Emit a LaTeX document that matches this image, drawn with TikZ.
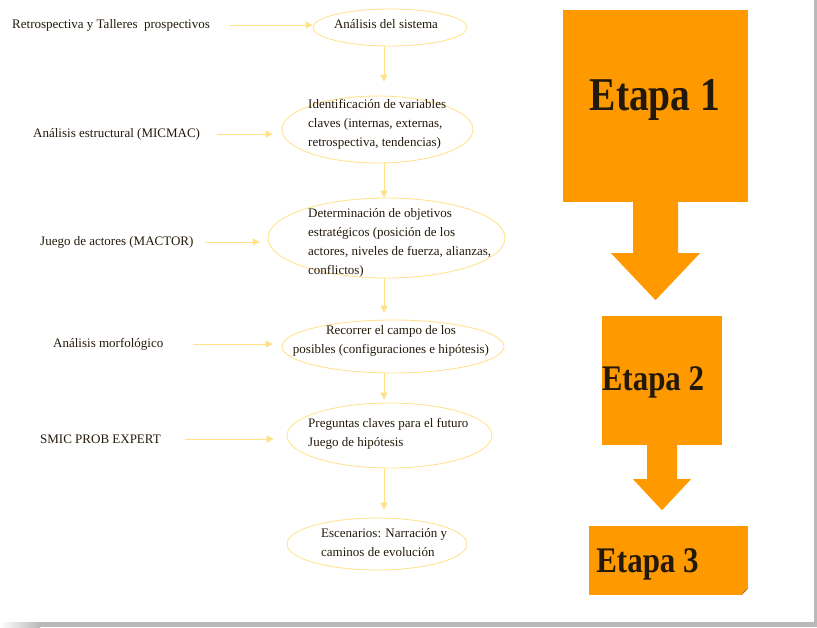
\documentclass[tikz,border=0pt]{standalone}
\usepackage{fontspec}
\usepackage{graphicx}
\setmainfont{Liberation Serif}
\usetikzlibrary{shapes.geometric,arrows.meta,calc}
\definecolor{ylw}{RGB}{255,225,135}
\definecolor{org}{RGB}{255,153,0}
\definecolor{ink}{RGB}{35,25,10}
\begin{document}
\begin{tikzpicture}[x=1pt,y=-1pt,
  ell/.style={draw=ylw, line width=0.8pt, ellipse, inner sep=0pt},
  lbl/.style={anchor=west, inner sep=0pt, text=ink, font=\fontsize{13}{19}\selectfont},
  txt/.style={inner sep=0pt, text=ink, font=\fontsize{13}{19}\selectfont},
  flow/.style={draw=ylw, line width=1pt, -{Triangle[length=7pt,width=7pt]}},
  stagebox/.style={fill=org, draw=none, inner sep=0pt, rectangle},
  etp/.style={inner sep=0pt, text=ink, font=\bfseries, anchor=base}]
\useasboundingbox (0,0) rectangle (817,627);
% page shadow
\fill[gray!55] (814,0) rectangle (817,627);
\shade[left color=white, right color=gray!55] (0,622) rectangle (40,627);
\fill[gray!55] (40,622) rectangle (817,627);

% ellipses
\node[ell, minimum width=154pt, minimum height=37pt] (e1) at (390,27.5) {};
\node[ell, minimum width=191pt, minimum height=67pt] (e2) at (377.5,129.5) {};
\node[ell, minimum width=237pt, minimum height=80pt] (e3) at (386.5,238) {};
\node[ell, minimum width=222pt, minimum height=53pt] (e4) at (393,346.5) {};
\node[ell, minimum width=205pt, minimum height=65pt] (e5) at (389.5,435.5) {};
\node[ell, minimum width=180pt, minimum height=52pt] (e6) at (377,544) {};

% texts in ellipses
\node[txt, anchor=base] (t1) at (386,28.5) {Análisis del sistema};
\node[txt, anchor=north west, align=left] (t2) at (308,99) {Identificación de variables\\claves (internas, externas,\\retrospectiva, tendencias)};
\node[txt, anchor=north west, align=left] (t3) at (308,208) {Determinación de objetivos\\estratégicos (posición de los\\actores, niveles de fuerza, alianzas,\\conflictos)};
\node[txt, anchor=north, align=center] (t4) at (391,325) {Recorrer el campo de los\\posibles (configuraciones e hipótesis)};
\node[txt, anchor=north west, align=left] (t5) at (308,418) {Preguntas claves para el futuro\\Juego de hipótesis};
\node[txt, anchor=north west, align=left] (t6) at (321,528) {Escenarios: Narración y\\caminos de evolución};

% left labels
\node[lbl] (l1) at (12,25) {Retrospectiva y Talleres~ prospectivos};
\node[lbl] (l2) at (33,134) {Análisis estructural (MICMAC)};
\node[lbl] (l3) at (40,242) {Juego de actores (MACTOR)};
\node[lbl] (l4) at (53,344) {Análisis morfológico};
\node[lbl] (l5) at (40,439) {SMIC PROB EXPERT};

\coordinate (a1) at (230,25);
\coordinate (a2) at (217,134);
\coordinate (a3) at (205,242);
\coordinate (a4) at (193,344);
\coordinate (a5) at (185,439);
\draw[flow] (a1) -- (a1 -| e1.west);
\draw[flow, shorten >=9pt] (a2) -- (a2 -| e2.west);
\draw[flow, shorten >=8pt] (a3) -- (a3 -| e3.west);
\draw[flow, shorten >=9pt] (a4) -- (a4 -| e4.west);
\draw[flow, shorten >=13pt] (a5) -- (a5 -| e5.west);

% vertical flow
\coordinate (col) at (384,0);
\draw[flow, shorten >=14pt] (e1.south -| col) -- (e2.north -| col);
\draw[flow] (e2.south -| col) -- (e3.north -| col);
\draw[flow, shorten >=7pt] (e3.south -| col) -- (e4.north -| col);
\draw[flow, shorten >=3pt] (e4.south -| col) -- (e5.north -| col);
\draw[flow, shorten >=8pt] (e5.south -| col) -- (e6.north -| col);

% stages
\node[stagebox, minimum width=185pt, minimum height=192pt] (s1) at (655.5,106) {};
\node[stagebox, minimum width=120pt, minimum height=129pt] (s2) at (662,380.5) {};
\node[stagebox, minimum width=159pt, minimum height=69pt] (s3) at (668.5,560.5) {};
% folded corner of the third box
\fill[white] ($(s3.south east)+(-7,0.5)$) -- ($(s3.south east)+(0.5,0.5)$) -- ($(s3.south east)+(0.5,-7)$) -- cycle;
\fill[brown!70!black] ($(s3.south east)+(-7,0)$) -- ($(s3.south east)+(0,-7)$) -- ($(s3.south east)+(-4,-4)$) -- cycle;
\fill[org] ($(s1.south)+(-22.5,0)$) -- ($(s1.south)+(-22.5,51)$) -- ($(s1.south)+(-44.5,51)$)
  -- ($(s1.south)+(0,98)$) -- ($(s1.south)+(44.5,51)$) -- ($(s1.south)+(22.5,51)$)
  -- ($(s1.south)+(22.5,0)$) -- cycle;
\fill[org] ($(s2.south)+(-15,0)$) -- ($(s2.south)+(-15,34)$) -- ($(s2.south)+(-29,34)$)
  -- ($(s2.south)+(0,65)$) -- ($(s2.south)+(29,34)$) -- ($(s2.south)+(15,34)$)
  -- ($(s2.south)+(15,0)$) -- cycle;
\node[etp] (et1) at (655,110) {\scalebox{0.84}[1]{\fontsize{47}{50}\selectfont Etapa 1}};
\node[etp] (et2) at (653,390) {\scalebox{0.86}[1]{\fontsize{36}{40}\selectfont Etapa 2}};
\node[etp] (et3) at (647.5,572) {\scalebox{0.86}[1]{\fontsize{36}{40}\selectfont Etapa 3}};
\end{tikzpicture}
\end{document}
